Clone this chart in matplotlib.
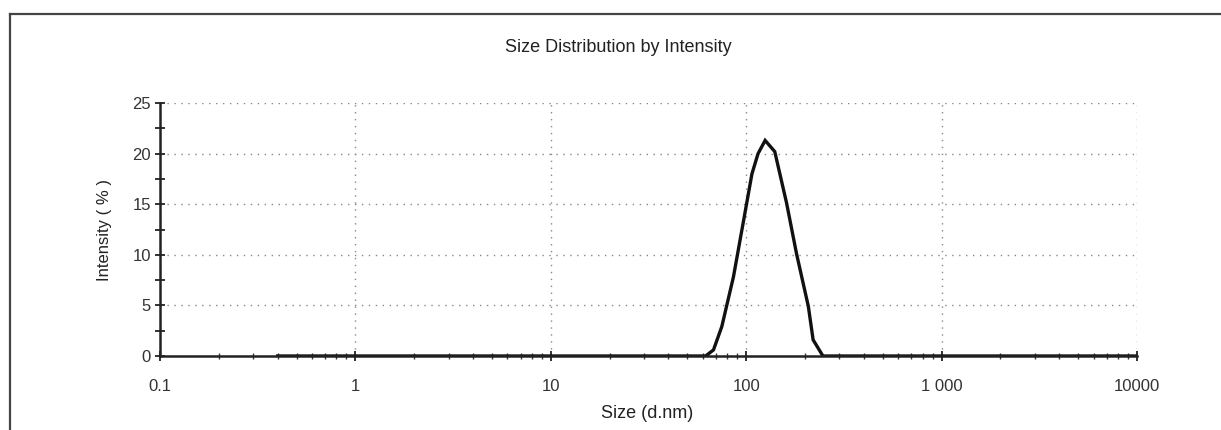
import matplotlib
matplotlib.use("Agg")
import matplotlib.pyplot as plt
from matplotlib.lines import Line2D
from matplotlib.ticker import FixedLocator, NullFormatter

plt.rcParams['font.family'] = ['Liberation Sans', 'DejaVu Sans']

# Data
size_nm = [0.4, 62, 68, 75, 86, 97, 107, 115, 125, 140, 161, 181, 208, 220, 247, 10000]
intensity_pct = [0, 0, 0.6, 2.9, 7.8, 13.4, 18.0, 20.0, 21.3, 20.2, 15.1, 10.1, 4.9, 1.6, 0, 0]

x_ticks = [0.1, 1, 10, 100, 1000, 10000]
x_tick_labels = ['0.1', '1', '10', '100', '1 000', '10000']
y_ticks = [0, 5, 10, 15, 20, 25]
y_minor = [2.5, 7.5, 12.5, 17.5, 22.5]

title = 'Size Distribution by Intensity'
xlabel = 'Size (d.nm)'
ylabel = 'Intensity ( % )'

W, H = 1221, 430
fig = plt.figure(figsize=(W / 100, H / 100), dpi=100)
ax = fig.add_axes([160 / W, 1 - 356 / H, (1137 - 160) / W, (356 - 103) / H])

ax.plot(size_nm, intensity_pct, color='#111111', lw=2.4, solid_joinstyle='miter')
ax.set_xscale('log')
ax.set_xlim(0.1, 10000)
ax.set_ylim(0, 25)

ax.set_xticks(x_ticks)
ax.set_xticklabels(x_tick_labels)
minors = [m * d for d in [0.1, 1, 10, 100, 1000] for m in range(2, 10)]
ax.xaxis.set_minor_locator(FixedLocator(minors))
ax.xaxis.set_minor_formatter(NullFormatter())
ax.set_yticks(y_ticks)
ax.yaxis.set_minor_locator(FixedLocator(y_minor))

ax.tick_params(axis='both', which='major', direction='inout', length=7, width=1.3,
               labelsize=12, colors='#222222', labelcolor='#333333')
ax.tick_params(axis='x', which='major', pad=13)
ax.tick_params(axis='y', which='major', pad=3)
ax.tick_params(axis='y', which='minor', direction='inout', length=6.5, width=1.3, colors='#222222')
ax.tick_params(axis='x', which='minor', direction='inout', length=4, width=1.0, colors='#333333')

ax.grid(True, which='major', linestyle=(0, (1, 4)), color='#888888', lw=1.0)
for s in ['top', 'right']:
    ax.spines[s].set_visible(False)
for s in ['left', 'bottom']:
    ax.spines[s].set_linewidth(1.8)
    ax.spines[s].set_color('#222222')

fig.text(618 / W, 1 - 47 / H, title, ha='center', va='center', fontsize=13, color='#222222')
fig.text(647 / W, 1 - 413 / H, xlabel, ha='center', va='center', fontsize=13, color='#222222')
fig.text(105 / W, 1 - 230 / H, ylabel, ha='center', va='center', fontsize=12, rotation=90, color='#222222')

# outer frame
fig.add_artist(Line2D([10 / W, 1.0], [1 - 14 / H, 1 - 14 / H], transform=fig.transFigure,
                      color='#444444', lw=1.6))
fig.add_artist(Line2D([10 / W, 10 / W], [0, 1 - 14 / H], transform=fig.transFigure,
                      color='#444444', lw=1.6))

fig.savefig('out.png', dpi=100, facecolor='white')
